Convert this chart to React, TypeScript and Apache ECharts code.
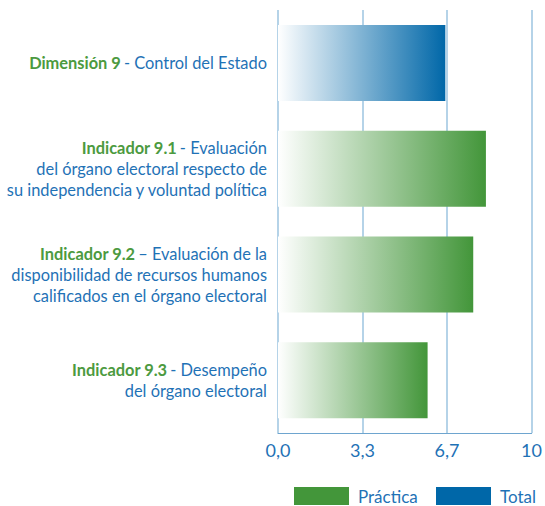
import React, { useEffect, useRef } from "react";
import * as echarts from "echarts";

const categories = ["Dimensión 9", "Indicador 9.1", "Indicador 9.2", "Indicador 9.3"];
const descriptions = [
  ["- Control del Estado"],
  ["- Evaluación", "del órgano electoral respecto de", "su independencia y voluntad política"],
  ["– Evaluación de la", "disponibilidad de recursos humanos", "calificados en el órgano electoral"],
  ["- Desempeño", "del órgano electoral"],
];
const totalValues: (number | string)[] = [6.6, "-", "-", "-"];
const practicaValues: (number | string)[] = ["-", 8.2, 7.7, 5.9];
const seriesNames = ["Práctica", "Total"];

const GREEN = "#43963a";
const BLUE = "#0067a8";
const TEXT_BLUE = "#1f72b6";
const TEXT_GREEN = "#4c9a40";
const FONT = "Lato, 'Open Sans', sans-serif";

export default function App() {
  const ref = useRef<HTMLDivElement>(null);
  useEffect(() => {
    if (!ref.current) return;
    const chart = echarts.init(ref.current, undefined, { renderer: "svg" });
    const grad = (c: string) =>
      new echarts.graphic.LinearGradient(0, 0, 1, 0, [
        { offset: 0, color: "#ffffff" },
        { offset: 1, color: c },
      ]);
    const legendBase = {
      top: 487,
      padding: 0,
      itemWidth: 55,
      itemHeight: 18,
      icon: "rect",
      textStyle: { color: TEXT_BLUE, fontSize: 17, fontFamily: FONT, padding: [0, 0, 0, 4] },
    };
    chart.setOption({
      animation: false,
      grid: { left: 278, right: 12, top: 10, bottom: 73 },
      legend: [
        { ...legendBase, left: 294, data: [{ name: seriesNames[0], itemStyle: { color: GREEN } }] },
        { ...legendBase, left: 436, data: [{ name: seriesNames[1], itemStyle: { color: BLUE } }] },
      ],
      xAxis: {
        type: "value",
        min: 0,
        max: 10,
        interval: 10 / 3,
        axisLine: { show: true, lineStyle: { color: "#6ea5cf", width: 1.2 } },
        axisTick: { show: false },
        splitLine: { show: true, lineStyle: { color: "#9cc4e0", width: 1.5 } },
        axisLabel: {
          color: TEXT_BLUE,
          fontSize: 18,
          fontFamily: FONT,
          margin: 8,
          formatter: (v: number) => (Math.abs(v - 10) < 1e-6 ? "10" : v.toFixed(1).replace(".", ",")),
        },
      },
      yAxis: {
        type: "category",
        inverse: true,
        data: categories,
        axisLine: { show: false },
        axisTick: { show: false },
        axisLabel: {
          margin: 11,
          align: "right",
          fontFamily: FONT,
          formatter: (v: string, i: number) => {
            const d = descriptions[i];
            const lines = [`{g|${v}} {b|${d[0]}}`];
            for (let k = 1; k < d.length; k++) lines.push(`{b|${d[k]}}`);
            return lines.join("\n");
          },
          rich: {
            g: { color: TEXT_GREEN, fontSize: 16.4, fontWeight: "bold", fontFamily: FONT, lineHeight: 21 },
            b: { color: TEXT_BLUE, fontSize: 16.4, fontFamily: FONT, lineHeight: 21 },
          },
        },
      },
      series: [
        {
          name: seriesNames[0],
          type: "bar",
          data: practicaValues,
          barWidth: 76,
          barGap: "-100%",
          itemStyle: { color: grad(GREEN) },
        },
        {
          name: seriesNames[1],
          type: "bar",
          data: totalValues,
          barWidth: 76,
          barGap: "-100%",
          itemStyle: { color: grad(BLUE) },
        },
      ],
    });
    return () => chart.dispose();
  }, []);
  return (
    <div
      ref={ref}
      style={{ position: "absolute", left: 0, top: 0, width: 545, height: 506, background: "#fff" }}
    />
  );
}
